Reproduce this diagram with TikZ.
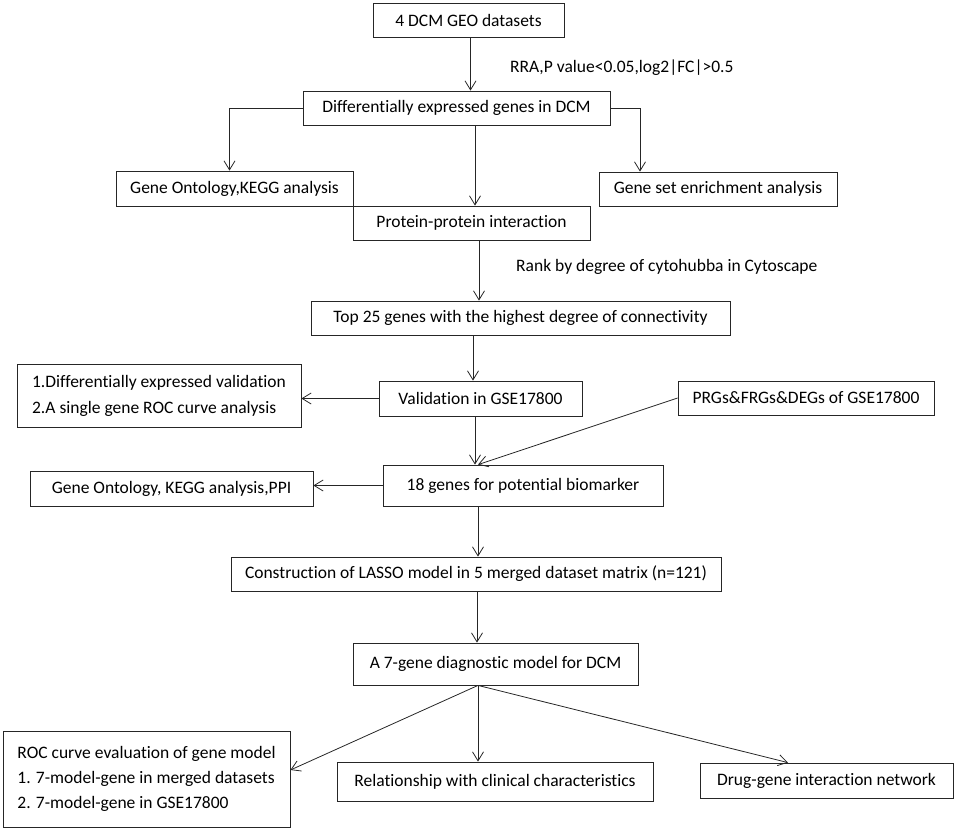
\documentclass[tikz,border=0pt]{standalone}
\usepackage{fontspec}
\setmainfont[Ligatures=NoCommon]{Carlito}
\usetikzlibrary{arrows.meta}
\begin{document}
\begin{tikzpicture}[x=1pt,y=-1pt,
  box/.style={draw=black!85,line width=0.8pt,inner sep=0pt,align=center,font=\fontsize{17.5}{21}\selectfont},
  lbl/.style={inner sep=0pt,font=\fontsize{17.5}{21}\selectfont},
  arr/.style={draw=black!85,line width=0.8pt,-{Straight Barb[length=9pt,width=11pt]}},
  ln/.style={draw=black!85,line width=0.8pt}]
\useasboundingbox (0,0) rectangle (957,832);
\node[box,minimum width=191pt,minimum height=34pt] (d1) at (468.5,20) {4 DCM GEO datasets};
\node[box,minimum width=307pt,minimum height=34pt] (deg) at (456.5,108) {Differentially expressed genes in DCM};
\node[box,minimum width=237pt,minimum height=35pt] (go1) at (234.5,188.5) {Gene Ontology,KEGG analysis};
\node[box,minimum width=237pt,minimum height=34pt] (ppi) at (471.5,223) {Protein-protein interaction};
\node[box,minimum width=238pt,minimum height=34pt] (gsea) at (718,189) {Gene set enrichment analysis};
\node[box,minimum width=419pt,minimum height=34pt] (top) at (520.5,318) {Top 25 genes with the highest degree of connectivity};
\node[box,minimum width=203pt,minimum height=35pt] (val) at (480.5,398.5) {Validation in GSE17800};
\node[box,minimum width=284pt,minimum height=63pt,align=left,font=\fontsize{17.5}{26}\selectfont] (dv) at (159,395.5) {1.Differentially expressed validation\\2.A single gene ROC curve analysis};
\node[box,minimum width=256pt,minimum height=34pt] (prg) at (806,398) {PRGs\&FRGs\&DEGs of GSE17800};
\node[box,minimum width=280pt,minimum height=41pt] (g18) at (523,485.5) {18 genes for potential biomarker};
\node[box,minimum width=283pt,minimum height=35pt] (go2) at (171.5,488.5) {Gene Ontology, KEGG analysis,PPI};
\node[box,minimum width=490pt,minimum height=34pt] (lasso) at (476,574) {Construction of LASSO model in 5 merged dataset matrix (n=121)};
\node[box,minimum width=285pt,minimum height=42pt] (m7) at (495.5,664) {A 7-gene diagnostic model for DCM};
\node[box,minimum width=287pt,minimum height=96pt,align=left,font=\fontsize{17.5}{25}\selectfont] (roc) at (146.5,779) {ROC curve evaluation of gene model\\1. 7-model-gene in merged datasets\\2. 7-model-gene in GSE17800};
\node[box,minimum width=316pt,minimum height=39pt] (rel) at (495,781.5) {Relationship with clinical characteristics};
\node[box,minimum width=253pt,minimum height=35pt] (drug) at (826.5,780.5) {Drug-gene interaction network};
\node[lbl,anchor=west] (l1) at (510,68) {RRA,P value<0.05,log2|FC|>0.5};
\node[lbl,anchor=west] (l2) at (516,267) {Rank by degree of cytohubba in Cytoscape};
% connectors
\draw[arr] ([xshift=2pt]d1.south) -- ([xshift=2pt]d1.south |- deg.north);
\draw[arr] (deg.west) -| ([xshift=-5pt]go1.north);
\draw[arr] ([xshift=3.5pt]ppi.north |- deg.south) -- ([xshift=3.5pt]ppi.north);
\draw[arr] (deg.east) -| ([xshift=-78pt]gsea.north);
\draw[arr] ([xshift=7.5pt]ppi.south) -- ([xshift=7.5pt]ppi.south |- top.north);
\draw[arr] ([xshift=-7.5pt]val.north |- top.south) -- ([xshift=-7.5pt]val.north);
\draw[arr] (val.west) -- (val.west -| dv.east);
\draw[arr] ([xshift=-5.5pt]val.south) -- ([xshift=-5.5pt]val.south |- g18.north);
\draw[arr] (prg.west) -- ([xshift=-45pt]g18.north);
\draw[arr] (g18.west) -- (g18.west -| go2.east);
\draw[arr] ([xshift=-45pt]g18.south) -- ([xshift=-45pt]g18.south |- lasso.north);
\draw[arr] ([xshift=1pt]lasso.south) -- ([xshift=1pt]lasso.south |- m7.north);
\coordinate (m7b) at ([xshift=-17.5pt]m7.south);
\draw[arr] (m7b) -- ([yshift=9pt]roc.east);
\draw[arr] (m7b) -- (m7b |- rel.north);
\draw[arr] (m7b) -- ([xshift=-38.5pt]drug.north);
\end{tikzpicture}
\end{document}
